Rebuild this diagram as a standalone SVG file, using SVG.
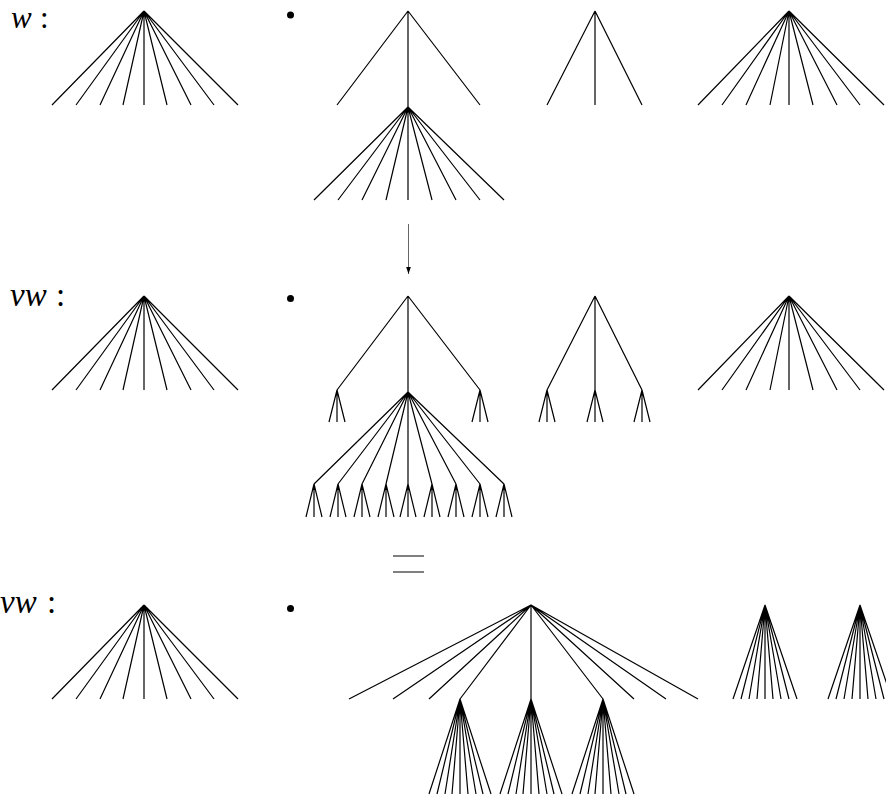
<svg xmlns="http://www.w3.org/2000/svg" width="886" height="795" viewBox="0 0 886 795">
<defs>
<style>
.e{stroke:#000;stroke-width:1.2;fill:none;stroke-linecap:butt}
.lbl{font-family:"Liberation Serif","Times New Roman",serif;font-size:33px;fill:#000}
.top{font-size:31px}
.it{font-style:italic}
.dot{fill:#000}
</style>
<marker id="ah" markerWidth="7" markerHeight="5" refX="6" refY="2" orient="auto" markerUnits="userSpaceOnUse" viewBox="0 0 6 4">
<path d="M0,0 L6,2 L0,4 Z" fill="#000"/>
</marker>
</defs>
<rect width="886" height="795" fill="#fff"/>

<g id="labels">
<text class="lbl top" x="11" y="28"><tspan class="it">w</tspan></text><text class="lbl top" x="40" y="28">:</text>
<text class="lbl" x="10" y="306"><tspan class="it">vw</tspan></text><text class="lbl" x="56" y="306">:</text>
<text class="lbl" x="0" y="613"><tspan class="it">vw</tspan></text><text class="lbl" x="47" y="613">:</text>
</g>

<g id="bullets">
<circle class="dot" cx="290.5" cy="15" r="3.5"/>
<circle class="dot" cx="290.5" cy="298.5" r="3.5"/>
<circle class="dot" cx="290.5" cy="608.5" r="3.5"/>
</g>

<g id="connectors">
<line x1="408.5" y1="224" x2="408.5" y2="274" stroke="#555" stroke-width="0.9" marker-end="url(#ah)"/>
<line x1="393" y1="556" x2="424" y2="556" stroke="#000" stroke-width="1"/>
<line x1="393" y1="572" x2="424" y2="572" stroke="#000" stroke-width="1"/>
</g>

<!-- Row 1 -->
<g id="r1-w">
<path class="e" d="M144,11L52,105M144,11L76,105M144,11L100,105M144,11L123,105M144,11L144,105M144,11L167,105M144,11L191,105M144,11L214,105M144,11L238,105"/>
</g>
<g id="r1-t2">
<path class="e" d="M408,11L337,105M408,11L408,107M408,11L480,105"/>
<path class="e" d="M408,107L314,200M408,107L338,200M408,107L362,200M408,107L386,200M408,107L408,200M408,107L432,200M408,107L456,200M408,107L480,200M408,107L504,200"/>
</g>
<g id="r1-t3">
<path class="e" d="M595,11L547,105M595,11L595,105M595,11L642,105"/>
</g>
<g id="r1-t4">
<path class="e" d="M789,11L698,105M789,11L722,105M789,11L746,105M789,11L770,105M789,11L789,105M789,11L813,105M789,11L837,105M789,11L860,105M789,11L884,105"/>
</g>

<!-- Row 2 -->
<g id="r2-w">
<path class="e" d="M144,296L52,390M144,296L76,390M144,296L100,390M144,296L123,390M144,296L144,390M144,296L167,390M144,296L191,390M144,296L214,390M144,296L238,390"/>
</g>
<g id="r2-t2">
<path class="e" d="M408,296L337,390M408,296L408,392M408,296L480,390"/>
<path class="e" d="M337,390L329,422M337,390L337,422M337,390L345,422M480,390L472,422M480,390L480,422M480,390L488,422"/>
<path class="e" d="M408,392L314,484M408,392L338,484M408,392L362,484M408,392L386,484M408,392L408,484M408,392L432,484M408,392L456,484M408,392L480,484M408,392L504,484"/>
<path class="e" d="M314,484L306,517M314,484L314,517M314,484L322,517
M338,484L330,517M338,484L338,517M338,484L346,517
M362,484L354,517M362,484L362,517M362,484L370,517
M386,484L378,517M386,484L386,517M386,484L394,517
M408,484L400,517M408,484L408,517M408,484L416,517
M432,484L424,517M432,484L432,517M432,484L440,517
M456,484L448,517M456,484L456,517M456,484L464,517
M480,484L472,517M480,484L480,517M480,484L488,517
M504,484L496,517M504,484L504,517M504,484L512,517"/>
</g>
<g id="r2-t3">
<path class="e" d="M595,296L547,390M595,296L595,390M595,296L642,390"/>
<path class="e" d="M547,390L539,422M547,390L547,422M547,390L555,422M595,390L587,422M595,390L595,422M595,390L603,422M642,390L634,422M642,390L642,422M642,390L650,422"/>
</g>
<g id="r2-t4">
<path class="e" d="M789,296L698,390M789,296L722,390M789,296L746,390M789,296L770,390M789,296L789,390M789,296L813,390M789,296L837,390M789,296L860,390M789,296L884,390"/>
</g>

<!-- Row 3 -->
<g id="r3-w">
<path class="e" d="M144,605L52,699M144,605L76,699M144,605L100,699M144,605L123,699M144,605L144,699M144,605L167,699M144,605L191,699M144,605L214,699M144,605L238,699"/>
</g>
<g id="r3-big">
<path class="e" d="M531,605L349,699M531,605L393,699M531,605L429,699M531,605L460,699M531,605L531,699M531,605L603,699M531,605L634,699M531,605L666,699M531,605L698,699"/>
<path class="e" d="M460,699L429,794M460,699L437,794M460,699L445,794M460,699L452,794M460,699L460,794M460,699L468,794M460,699L476,794M460,699L483,794M460,699L491,794"/>
<path class="e" d="M531,699L500,794M531,699L508,794M531,699L516,794M531,699L523,794M531,699L531,794M531,699L539,794M531,699L547,794M531,699L554,794M531,699L562,794"/>
<path class="e" d="M603,699L572,794M603,699L580,794M603,699L588,794M603,699L595,794M603,699L603,794M603,699L611,794M603,699L619,794M603,699L626,794M603,699L634,794"/>
</g>
<g id="r3-t3">
<path class="e" d="M765,605L733,699M765,605L741,699M765,605L749,699M765,605L757,699M765,605L765,699M765,605L773,699M765,605L781,699M765,605L789,699M765,605L797,699"/>
</g>
<g id="r3-t4">
<path class="e" d="M860,605L828,699M860,605L836,699M860,605L844,699M860,605L852,699M860,605L860,699M860,605L868,699M860,605L876,699M860,605L884,699M860,605L892,699"/>
</g>
</svg>
